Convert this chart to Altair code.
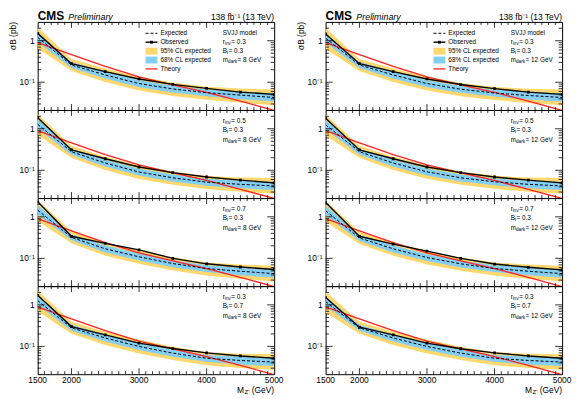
import altair as alt
import pandas as pd

FONT = "Liberation Sans"
YEL = "#FFD76E"
BLUE = "#84CDF3"
RED = "#FF2020"

W, H = 239, 89

# mass points (GeV)
masses = [1500, 2000, 2500, 3000, 3500, 4000, 4500, 5000]
theory = [0.9, 0.46, 0.24, 0.135, 0.087, 0.057, 0.035, 0.021]

# band edges relative to expected
r_hi95 = [1.75, 1.4, 1.42, 1.45, 1.42, 1.4, 1.45, 1.55]
r_hi68 = [1.3, 1.18, 1.2, 1.2, 1.2, 1.2, 1.22, 1.25]
r_lo68 = [0.78, 0.85, 0.82, 0.82, 0.82, 0.82, 0.8, 0.8]
r_lo95 = [0.55, 0.72, 0.68, 0.68, 0.68, 0.68, 0.66, 0.65]

exp_L1 = [1.2, 0.26, 0.15, 0.093, 0.069, 0.056, 0.049, 0.043]
obs_L1 = [1.5, 0.28, 0.18, 0.12, 0.089, 0.071, 0.058, 0.051]
exp_L2 = [1.28, 0.28, 0.15, 0.091, 0.066, 0.052, 0.046, 0.042]
obs_L2 = [1.84, 0.31, 0.19, 0.12, 0.088, 0.069, 0.058, 0.050]
exp_L3 = [1.44, 0.32, 0.17, 0.109, 0.075, 0.057, 0.049, 0.043]
obs_L3 = [2.3, 0.34, 0.23, 0.16, 0.10, 0.074, 0.062, 0.054]
exp_L4 = [1.27, 0.28, 0.16, 0.10, 0.069, 0.052, 0.046, 0.042]
obs_L4 = [1.7, 0.30, 0.19, 0.12, 0.089, 0.070, 0.059, 0.052]

exp_R1 = [1.15, 0.26, 0.15, 0.093, 0.068, 0.055, 0.048, 0.043]
obs_R1 = [1.45, 0.28, 0.18, 0.12, 0.088, 0.070, 0.058, 0.051]
exp_R2 = [1.25, 0.28, 0.15, 0.092, 0.066, 0.053, 0.046, 0.042]
obs_R2 = [1.8, 0.31, 0.19, 0.12, 0.088, 0.069, 0.058, 0.050]
exp_R3 = [1.4, 0.31, 0.17, 0.105, 0.074, 0.057, 0.049, 0.043]
obs_R3 = [2.2, 0.34, 0.22, 0.15, 0.10, 0.073, 0.061, 0.053]
exp_R4 = [1.2, 0.28, 0.16, 0.10, 0.069, 0.052, 0.046, 0.042]
obs_R4 = [1.5, 0.29, 0.19, 0.12, 0.088, 0.070, 0.059, 0.052]

rinv_vals = [0.3, 0.5, 0.7, 0.3]
bi_vals = [0.3, 0.3, 0.3, 0.7]
mdark_vals = [8, 12]

x_labels = [1500, 2000, 3000, 4000, 5000]
y_label_vals = [1, 0.1]
y_label_text = ["1", "10⁻¹"]
x_major_ticks = [2000, 3000, 4000]
x_minor_ticks = [m for m in range(1600, 5000, 100) if m % 1000 != 0]
y_major_ticks = [0.1, 1]
y_minor_ticks = [0.03, 0.04, 0.05, 0.06, 0.07, 0.08, 0.09,
                 0.2, 0.3, 0.4, 0.5, 0.6, 0.7, 0.8, 0.9, 2]

xs = alt.Scale(domain=[1500, 5000], nice=False, zero=False)
ys = alt.Scale(type="log", domain=[0.0215, 2.83], nice=False)

ONE = pd.DataFrame({"a": [0]})

CW = {" ": 278, "=": 584, ".": 278, "r": 333, "i": 222, "n": 556, "v": 500,
      "B": 667, "m": 833, "d": 556, "a": 556, "k": 500, "G": 778, "e": 556,
      "V": 667, "Z": 611, "'": 191, "M": 833, "(": 333, ")": 333}


def tw(s, size):
    return sum(CW.get(c, 556) for c in s) * size / 1000.0


def txt(s, x, y, size=6.5, align="left", baseline="middle", **kw):
    return alt.Chart(ONE).mark_text(
        text=s, font=FONT, fontSize=size, align=align, baseline=baseline,
        color="black", **kw
    ).encode(x=alt.value(x), y=alt.value(y))


def subtxt(base, sub, rest, x, y, size=6.5):
    ssize = size * 0.72
    x1 = x + tw(base, size)
    x2 = x1 + tw(sub, ssize) + 0.5
    return [txt(base, x, y, size), txt(sub, x1, y + 2, ssize), txt(rest, x2, y, size)]


def make_panel(exp, obs, row, col):
    top = row == 0
    bottom = row == 3
    df = pd.DataFrame({
        "m": masses, "exp": exp, "obs": obs, "th": theory,
        "lo95": [e * r for e, r in zip(exp, r_lo95)],
        "hi95": [e * r for e, r in zip(exp, r_hi95)],
        "lo68": [e * r for e, r in zip(exp, r_lo68)],
        "hi68": [e * r for e, r in zip(exp, r_hi68)],
    })
    base = alt.Chart(df)
    xn = alt.X("m:Q", scale=xs, axis=None)
    layers = [
        base.mark_area(color=YEL, clip=True).encode(
            x=xn, y=alt.Y("lo95:Q", scale=ys, axis=None), y2="hi95:Q"),
        base.mark_area(color=BLUE, clip=True).encode(
            x=xn, y=alt.Y("lo68:Q", scale=ys, axis=None), y2="hi68:Q"),
        base.mark_line(color=RED, strokeWidth=1.3, clip=True).encode(
            x=xn, y=alt.Y("th:Q", scale=ys, axis=None)),
        base.mark_line(color="black", strokeWidth=1, strokeDash=[3, 2], clip=True).encode(
            x=xn, y=alt.Y("exp:Q", scale=ys, axis=None)),
        base.mark_line(color="black", strokeWidth=1.4, clip=True).encode(
            x=xn, y=alt.Y("obs:Q", scale=ys, axis=None)),
        base.mark_point(shape="square", filled=True, color="black", size=8,
                        opacity=1, clip=True).encode(
            x=xn, y=alt.Y("obs:Q", scale=ys, axis=None)),
    ]
    # inward ticks
    for vals, ln in ((x_major_ticks, 6), (x_minor_ticks, 3)):
        d = alt.Chart(pd.DataFrame({"v": vals}))
        xv = alt.X("v:Q", scale=xs, axis=None)
        layers.append(d.mark_rule(color="black", strokeWidth=0.8).encode(
            x=xv, y=alt.value(H), y2=alt.value(H - ln)))
        layers.append(d.mark_rule(color="black", strokeWidth=0.8).encode(
            x=xv, y=alt.value(0), y2=alt.value(ln)))
    for vals, ln in ((y_major_ticks, 7), (y_minor_ticks, 3.5)):
        d = alt.Chart(pd.DataFrame({"v": vals}))
        yv = alt.Y("v:Q", scale=ys, axis=None)
        layers.append(d.mark_rule(color="black", strokeWidth=0.8).encode(
            y=yv, x=alt.value(0), x2=alt.value(ln)))
        layers.append(d.mark_rule(color="black", strokeWidth=0.8).encode(
            y=yv, x=alt.value(W - ln), x2=alt.value(W)))

    # y tick labels
    layers.append(alt.Chart(pd.DataFrame({"v": y_label_vals, "t": y_label_text})).mark_text(
        font=FONT, fontSize=8.5, align="right", baseline="middle", color="black"
    ).encode(y=alt.Y("v:Q", scale=ys, axis=None), x=alt.value(-3), text="t:N"))

    rinv = rinv_vals[row]
    bi = bi_vals[row]
    md = mdark_vals[col]
    tx = 187
    if top:
        ty = [20.5, 29.5, 38.5]
        layers.append(txt("SVJJ model", tx, 11.5))
        # legend
        lx0, lx1, ltx = 109, 121, 124
        ly = [11.5, 20.5, 29.5, 38.5, 47.5]
        layers.append(alt.Chart(ONE).mark_rule(color="black", strokeWidth=1, strokeDash=[3, 2]).encode(
            x=alt.value(lx0), x2=alt.value(lx1), y=alt.value(ly[0])))
        layers.append(alt.Chart(ONE).mark_rule(color="black", strokeWidth=1.4).encode(
            x=alt.value(lx0), x2=alt.value(lx1), y=alt.value(ly[1])))
        layers.append(alt.Chart(ONE).mark_point(shape="square", filled=True, color="black",
                                                size=8, opacity=1).encode(
            x=alt.value((lx0 + lx1) / 2), y=alt.value(ly[1])))
        layers.append(alt.Chart(ONE).mark_rect(color=YEL).encode(
            x=alt.value(lx0), x2=alt.value(lx1), y=alt.value(ly[2] - 3.5), y2=alt.value(ly[2] + 3.5)))
        layers.append(alt.Chart(ONE).mark_rect(color=BLUE).encode(
            x=alt.value(lx0), x2=alt.value(lx1), y=alt.value(ly[3] - 3.5), y2=alt.value(ly[3] + 3.5)))
        layers.append(alt.Chart(ONE).mark_rule(color=RED, strokeWidth=1.3).encode(
            x=alt.value(lx0), x2=alt.value(lx1), y=alt.value(ly[4])))
        for s, yy in zip(["Expected", "Observed", "95% CL expected", "68% CL expected", "Theory"], ly):
            layers.append(txt(s, ltx, yy))
        # headers
        layers.append(txt("CMS", 0, -1.5, size=12, baseline="alphabetic", fontWeight="bold"))
        layers.append(txt("Preliminary", 31, -1.5, size=9, baseline="alphabetic", fontStyle="italic"))
        layers.append(txt("138 fb⁻¹ (13 TeV)", W, -1.5, size=8.5, align="right", baseline="alphabetic"))
        layers.append(txt("σB (pb)", -25, 0, size=8.5, align="right", angle=270))
    else:
        ty = [11, 20, 30]
    layers += subtxt("r", "inv", f" = {rinv}", tx, ty[0])
    layers += subtxt("B", "i", f" = {bi}", tx, ty[1])
    layers += subtxt("m", "dark", f" = {md} GeV", tx, ty[2])
    if bottom:
        layers.append(alt.Chart(pd.DataFrame({"v": x_labels, "t": [str(v) for v in x_labels]})).mark_text(
            font=FONT, fontSize=8.5, align="center", baseline="top", color="black"
        ).encode(x=alt.X("v:Q", scale=xs, axis=None), y=alt.value(H + 2), text="t:N"))
        s = 8.5
        xr = W
        w_rest = tw(" (GeV)", s)
        w_sub = tw("Z'", s * 0.72)
        layers.append(txt(" (GeV)", xr, H + 16, size=s, align="right"))
        layers.append(txt("Z'", xr - w_rest, H + 18, size=s * 0.72, align="right"))
        layers.append(txt("M", xr - w_rest - w_sub - 0.5, H + 16, size=s, align="right"))
    return alt.layer(*layers).properties(width=W, height=H)


left = [(exp_L1, obs_L1), (exp_L2, obs_L2), (exp_L3, obs_L3), (exp_L4, obs_L4)]
right = [(exp_R1, obs_R1), (exp_R2, obs_R2), (exp_R3, obs_R3), (exp_R4, obs_R4)]

panels = []
for r in range(4):
    panels.append(make_panel(left[r][0], left[r][1], r, 0))
    panels.append(make_panel(right[r][0], right[r][1], r, 1))

chart = alt.concat(
    *panels, columns=2, spacing={"row": 0, "column": 52}, bounds="flush"
).properties(
    padding={"left": 0, "top": 0, "right": 0, "bottom": 0},
    background="white",
).configure_view(stroke="black", strokeWidth=1)

chart.save("out.html", embed_options={"renderer": "svg", "actions": False})
